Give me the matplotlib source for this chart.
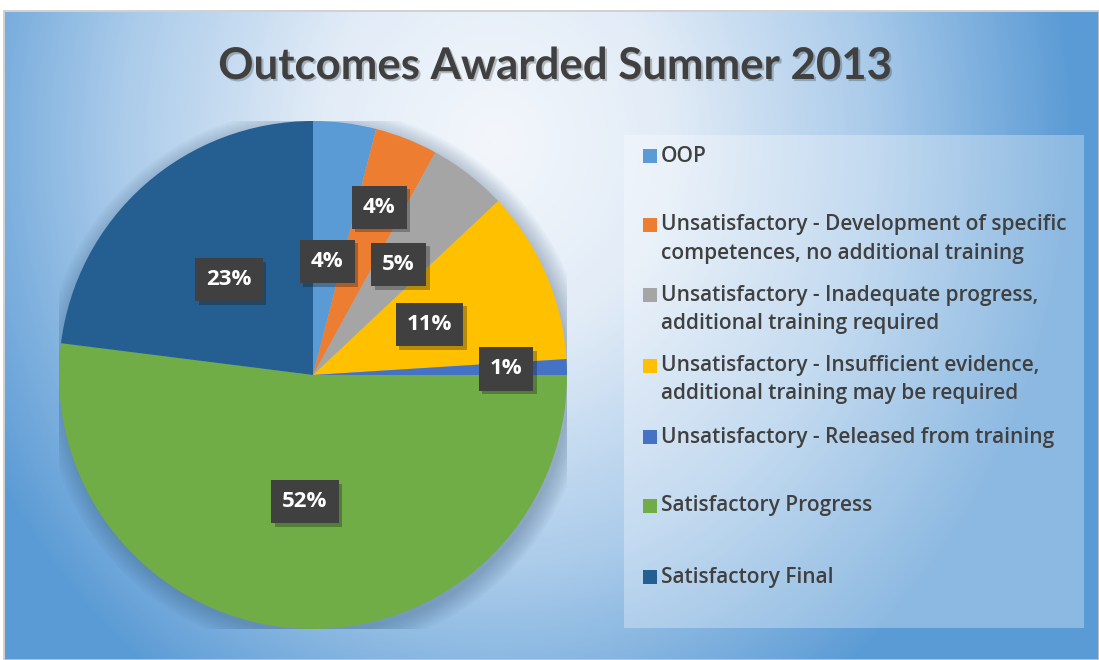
import numpy as np
import matplotlib
matplotlib.use("Agg")
import matplotlib.pyplot as plt
from matplotlib.patches import Rectangle, Circle
from matplotlib.colors import LinearSegmentedColormap
import matplotlib.patheffects as pe

# ---- data ----
categories = [
    "OOP",
    "Unsatisfactory - Development of specific\ncompetences, no additional training",
    "Unsatisfactory - Inadequate progress,\nadditional training required",
    "Unsatisfactory - Insufficient evidence,\nadditional training may be required",
    "Unsatisfactory - Released from training",
    "Satisfactory Progress",
    "Satisfactory Final",
]
values = [4, 4, 5, 11, 1, 52, 23]
colors = ["#5B9BD5", "#ED7D31", "#A5A5A5", "#FFC000", "#4472C4", "#70AD47", "#255E91"]
label_radius = [0.45, 0.71, 0.55, 0.50, 0.76, 0.50, 0.50]
title = "Outcomes Awarded Summer 2013"

W, H = 1099, 660
fig = plt.figure(figsize=(W / 100, H / 100), dpi=100)
fig.patch.set_facecolor("white")

# ---- background gradient ----
bg = fig.add_axes([5 / W, 0, 1 - 5 / W, (H - 12) / H])
bw, bh = W - 5, H - 12
yy, xx = np.mgrid[0:bh, 0:bw]
cx, cy = 490, 130
d = np.sqrt(((xx - cx) / 580.0) ** 2 + ((yy - cy) / 660.0) ** 2)
d = np.clip(d, 0, 1)
cmap = LinearSegmentedColormap.from_list(
    "bg", [(0.0, "#F3F7FC"), (0.3, "#E2ECF7"), (0.65, "#AACBEA"), (1.0, "#5B9BD5")])
bg.imshow(d, cmap=cmap, vmin=0, vmax=1, aspect="auto", interpolation="bilinear")
bg.set_axis_off()
fig.add_artist(Rectangle((4 / W, 0), 1 - 4 / W, (H - 11) / H, transform=fig.transFigure,
                         fill=False, ec="#C8C8C8", lw=1.2))

# ---- pie ----
pcx, pcy, R = 313, 375, 254
ax = fig.add_axes([(pcx - R) / W, (H - pcy - R) / H, 2 * R / W, 2 * R / H])
ax.set_axis_off()

# soft shadow behind the pie
for i in range(10):
    ax.add_patch(Circle((0.012, -0.02), 1.0 + 0.008 * i, color="#2E4E70",
                        alpha=0.035, lw=0, zorder=0))

wedges, _ = ax.pie(values, colors=colors, startangle=90, counterclock=False,
                   radius=1.0, wedgeprops=dict(linewidth=0))
for w in wedges:
    w.set_zorder(2)
ax.set_xlim(-1, 1)
ax.set_ylim(-1, 1)
ax.set_aspect("equal")

for w, v, r in zip(wedges, values, label_radius):
    ang = np.deg2rad((w.theta1 + w.theta2) / 2)
    t = ax.text(r * np.cos(ang), r * np.sin(ang), f"{v}%", ha="center", va="center",
                color="white", fontsize=16, fontweight="bold", family="Open Sans", zorder=5,
                bbox=dict(boxstyle="square,pad=0.5", fc="#404040", ec="none"))
    t.get_bbox_patch().set_path_effects([pe.SimplePatchShadow(offset=(2.5, -2.5), alpha=0.3),
                                         pe.Normal()])

# ---- title ----
fig.text(555 / W, 1 - 66 / H, title, ha="center", va="center", fontsize=31.5,
         fontweight="bold", family="Lato", color="#404040",
         path_effects=[pe.withSimplePatchShadow(offset=(1.5, -1.5), alpha=0.25)])

# ---- legend ----
lx0, ly0, lx1, ly1 = 624, 135, 1084, 628
fig.add_artist(Rectangle((lx0 / W, 1 - ly1 / H), (lx1 - lx0) / W, (ly1 - ly0) / H,
                         transform=fig.transFigure, fc="white", alpha=0.3, ec="none"))
entry_y = [156, 225, 295, 366, 437, 506, 577]
line_h = 28
for lab, col, ey in zip(categories, colors, entry_y):
    fig.add_artist(Rectangle((643 / W, 1 - (ey + 7) / H), 14 / W, 14 / H,
                             transform=fig.transFigure, fc=col, ec="none"))
    for k, line in enumerate(lab.split("\n")):
        fig.text(661 / W, 1 - (ey + k * line_h) / H, line, ha="left", va="center",
                 fontsize=15, fontweight="semibold", family="Open Sans", color="#404040")

fig.savefig("out.png", dpi=100, facecolor=fig.get_facecolor())
